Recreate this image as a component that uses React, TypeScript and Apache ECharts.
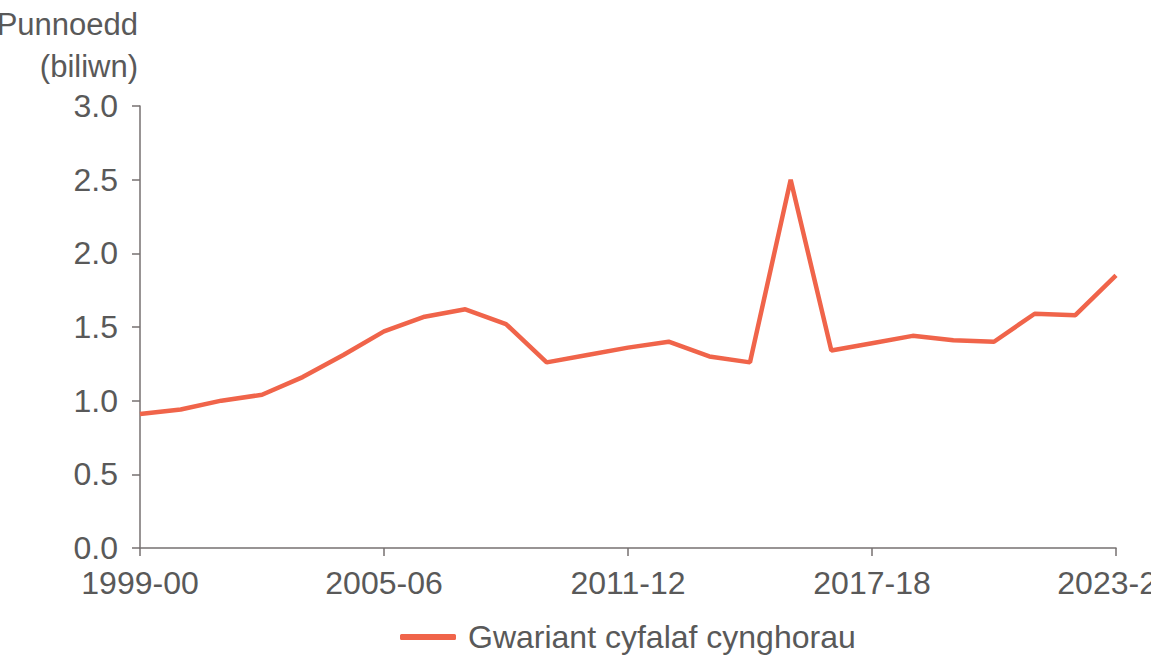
import React, { useEffect, useRef } from "react";
import * as echarts from "echarts";

const categories = [
  "1999-00", "2000-01", "2001-02", "2002-03", "2003-04", "2004-05", "2005-06",
  "2006-07", "2007-08", "2008-09", "2009-10", "2010-11", "2011-12", "2012-13",
  "2013-14", "2014-15", "2015-16", "2016-17", "2017-18", "2018-19", "2019-20",
  "2020-21", "2021-22", "2022-23", "2023-24",
];
const seriesName = "Gwariant cyfalaf cynghorau";
const values = [
  0.91, 0.94, 1.0, 1.04, 1.16, 1.31, 1.47, 1.57, 1.62, 1.52, 1.26, 1.31, 1.36,
  1.4, 1.3, 1.26, 2.5, 1.34, 1.39, 1.44, 1.41, 1.4, 1.59, 1.58, 1.85,
];
const yTitle = ["Punnoedd", "(biliwn)"];

const FONT = "Arial, 'Liberation Sans', sans-serif";
const TEXT = "#595959";
const AXIS = "#767171";
const LINE = "#f0644a";

export default function App() {
  const ref = useRef<HTMLDivElement>(null);
  useEffect(() => {
    if (!ref.current) return;
    const chart = echarts.init(ref.current, null, { renderer: "svg" });
    chart.setOption({
      animation: false,
      grid: {
        left: 140,
        right: 35,
        top: 106,
        bottom: 107,
        containLabel: false,
        outerBoundsMode: "none",
      },
      graphic: [
        {
          type: "text",
          x: 138,
          y: 3,
          style: {
            text: yTitle.join("\n"),
            font: `31px ${FONT}`,
            fill: TEXT,
            align: "right",
            verticalAlign: "top",
            lineHeight: 42,
          },
        },
      ],
      xAxis: {
        type: "category",
        data: categories,
        boundaryGap: false,
        axisLine: { lineStyle: { color: AXIS, width: 1.5 } },
        axisTick: { show: true, length: 8, interval: 5, lineStyle: { color: AXIS, width: 1.5 } },
        axisLabel: {
          interval: 5,
          color: TEXT,
          fontSize: 32,
          fontFamily: FONT,
          margin: 19,
          showMaxLabel: true,
          hideOverlap: false,
        },
        splitLine: { show: false },
      },
      yAxis: {
        type: "value",
        min: 0,
        max: 3,
        interval: 0.5,
        axisLine: { show: true, lineStyle: { color: AXIS, width: 1.5 } },
        axisTick: { show: true, length: 8, lineStyle: { color: AXIS, width: 1.5 } },
        axisLabel: {
          color: TEXT,
          fontSize: 32,
          fontFamily: FONT,
          margin: 22,
          formatter: (v: number) => v.toFixed(1),
        },
        splitLine: { show: false },
      },
      legend: {
        show: true,
        top: 621,
        left: 400,
        padding: 0,
        itemWidth: 56,
        itemHeight: 6,
        itemGap: 12,
        textStyle: { color: TEXT, fontSize: 32, fontFamily: FONT, padding: [0, 0, 0, 7] },
        data: [{ name: seriesName, icon: "roundRect" }],
        itemStyle: { color: LINE },
      },
      series: [
        {
          name: seriesName,
          type: "line",
          data: values,
          showSymbol: false,
          symbol: "none",
          lineStyle: { color: LINE, width: 4.5 },
          itemStyle: { color: LINE },
        },
      ],
    });
    return () => chart.dispose();
  }, []);
  return (
    <div
      ref={ref}
      style={{ position: "fixed", left: 0, top: 0, width: 1151, height: 655, background: "#fff" }}
    />
  );
}
